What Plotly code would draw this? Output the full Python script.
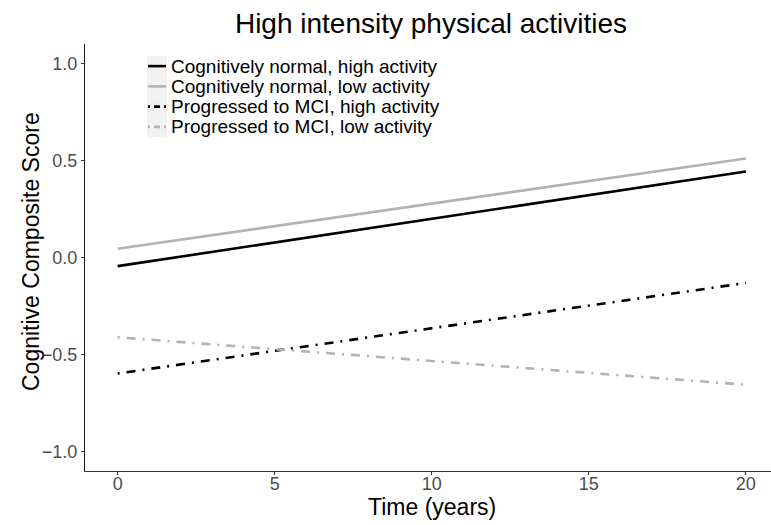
import plotly.graph_objects as go

time_years = [0, 20]
cn_high = [-0.043, 0.445]
cn_low = [0.047, 0.512]
mci_high = [-0.597, -0.13]
mci_low = [-0.41, -0.655]

series_names = [
    "Cognitively normal, high activity",
    "Cognitively normal, low activity",
    "Progressed to MCI, high activity",
    "Progressed to MCI, low activity",
]
series_values = [cn_high, cn_low, mci_high, mci_low]
colors = ["#000000", "#b3b3b3", "#000000", "#b3b3b3"]
dashes = ["solid", "solid", "2px,7px,9px,7px", "2px,7px,9px,7px"]

x_ticks = [0, 5, 10, 15, 20]
y_ticks = [-1.0, -0.5, 0.0, 0.5, 1.0]
y_ticklabels = ["\u22121.0", "\u22120.5", "0.0", "0.5", "1.0"]

W, H = 771, 525
ML, MR, MT, MB = 85, 0, 44, 54
PW, PH = W - ML - MR, H - MT - MB

fig = go.Figure()
for name, vals, c, d in zip(series_names, series_values, colors, dashes):
    fig.add_trace(go.Scatter(x=time_years, y=vals, mode="lines", name=name,
                             line=dict(color=c, width=2.6, dash=d), showlegend=False))


def px_x(p):
    return (p - ML) / PW


def px_y(p):
    return (H - MB - p) / PH


shapes = []
annotations = []
# manual legend (ggplot style: grey key backgrounds, tight rows)
key_left, key_right = 147, 167
row_top, row_h = 56, 20.25
for i, (name, c, d) in enumerate(zip(series_names, colors, dashes)):
    top = row_top + i * row_h
    cy = top + row_h / 2
    shapes.append(dict(type="rect", xref="paper", yref="paper",
                       x0=px_x(key_left), x1=px_x(key_right),
                       y0=px_y(top + row_h), y1=px_y(top),
                       fillcolor="#f2f2f2", line=dict(width=0), layer="below"))
    shapes.append(dict(type="line", xref="paper", yref="paper",
                       x0=px_x(key_left + 1), x1=px_x(key_right - 1),
                       y0=px_y(cy), y1=px_y(cy),
                       line=dict(color=c, width=2.6,
                                 dash="2px,4px,6px,4px" if d != "solid" else "solid")))
    annotations.append(dict(xref="paper", yref="paper", x=px_x(169), y=px_y(cy),
                            xanchor="left", yanchor="middle", showarrow=False,
                            text=name, font=dict(size=19, color="black")))

# axis titles
annotations.append(dict(xref="paper", yref="paper", x=px_x(432), y=px_y(507),
                        xanchor="center", yanchor="middle", showarrow=False,
                        text="Time (years)", font=dict(size=23, color="black")))
annotations.append(dict(xref="paper", yref="paper", x=px_x(31), y=px_y(252),
                        xanchor="center", yanchor="middle", showarrow=False, textangle=-90,
                        text="Cognitive Composite Score", font=dict(size=23, color="black")))

font_family = "Liberation Sans, Arial, sans-serif"
fig.update_layout(
    width=W, height=H,
    margin=dict(l=ML, r=MR, t=MT, b=MB, autoexpand=False),
    paper_bgcolor="white", plot_bgcolor="white",
    font=dict(family=font_family, color="black"),
    title=dict(text="High intensity physical activities", x=431 / W, xanchor="center",
               y=1 - 23 / H, yanchor="middle", font=dict(size=28, color="black")),
    showlegend=False,
    shapes=shapes,
    annotations=annotations,
    xaxis=dict(range=[-1.04, 20.8], tickvals=x_ticks, showgrid=False, zeroline=False,
               showline=True, linecolor="#333333", linewidth=1.3, automargin=False,
               ticks="outside", ticklen=3, tickcolor="#333333", tickwidth=1.2,
               ticklabelstandoff=-7,
               tickfont=dict(size=18, color="#4d4d4d")),
    yaxis=dict(range=[-1.1, 1.103], tickvals=y_ticks, ticktext=y_ticklabels,
               showgrid=False, zeroline=False, automargin=False,
               showline=True, linecolor="#1a1a1a", linewidth=1.3,
               ticks="outside", ticklen=3, tickcolor="#333333", tickwidth=1.2,
               tickfont=dict(size=18, color="#4d4d4d")),
)

fig.write_html("out.html", config={"displayModeBar": False},
               post_script="document.body.style.margin='0';document.body.style.overflow='hidden';")
